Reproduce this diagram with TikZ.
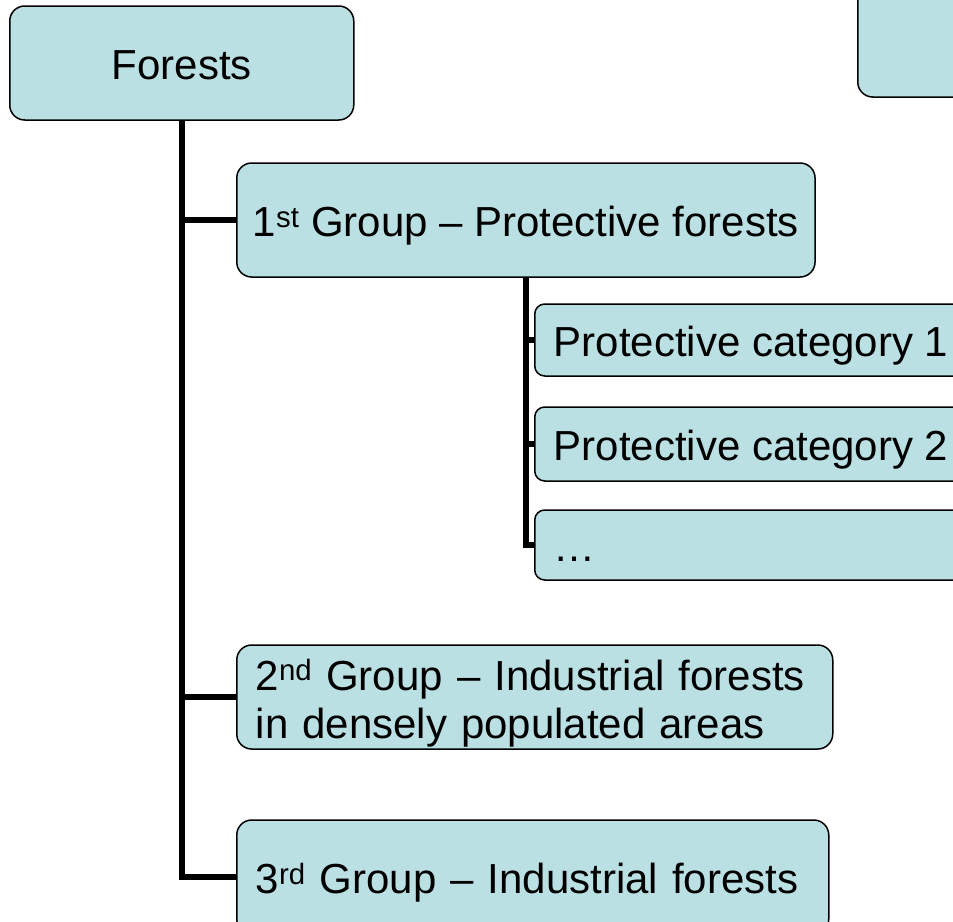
\documentclass[tikz,border=0pt]{standalone}
\usepackage{fontspec}
\setmainfont{Liberation Sans}
\definecolor{boxfill}{RGB}{186,224,227}

\begin{document}
\begin{tikzpicture}[x=1pt, y=-1pt,
    box/.style={draw=black, line width=1.5pt, fill=boxfill, rounded corners=15pt,
      font=\fontsize{42}{48}\selectfont, align=left, inner xsep=19pt, inner ysep=0pt,
      text height=33pt, text depth=0pt, anchor=west},
    smallbox/.style={box, rounded corners=10pt},
    conn/.style={line width=5.5pt}]
    %%%%% START %%%%%
    \useasboundingbox (0, 0) rectangle (953, 921);
    \clip (0, 0) rectangle (953, 921);
    
    \node[box, minimum width=344pt, minimum height=114pt] (forests) at (9, 63) {Forests};
    \node[box, minimum width=344pt, minimum height=114pt] (side) at (857, 40) {};
    
    \node[box, inner xsep=16pt, minimum width=578pt, minimum height=114pt] (grp1) at (236, 220) {1\textsuperscript{st} Group -- Protective forests};
    
    \node[smallbox, minimum height=72pt] (cat1) at (534, 340) {Protective category 1};
    \node[smallbox, minimum height=74pt] (cat2) at (534, 444) {Protective category 2};
    \node[smallbox, text width=440pt, minimum height=70pt] (dots) at (534, 545) {\dots};
    
    \node[box, text width=558pt, text height=34pt, text depth=48pt, minimum height=104pt] (grp2) at (236, 697) {2\textsuperscript{nd} Group -- Industrial forests\\in densely populated areas};
    \node[box, text width=554pt, minimum height=114pt] (grp3) at (236, 877) {3\textsuperscript{rd} Group -- Industrial forests};
    
    % main trunk
    \draw[conn] (forests.south) |- (grp3.west);
    \draw[conn] (forests.south |- grp1.west) -- (grp1.west);
    \draw[conn] (forests.south |- grp2.west) -- (grp2.west);
    
    % protective categories
    \draw[conn] (grp1.south) |- (dots.west);
    \draw[conn] (grp1.south |- cat1.west) -- (cat1.west);
    \draw[conn] (grp1.south |- cat2.west) -- (cat2.west);
    %%%%% END %%%%%
\end{tikzpicture}
\end{document}
